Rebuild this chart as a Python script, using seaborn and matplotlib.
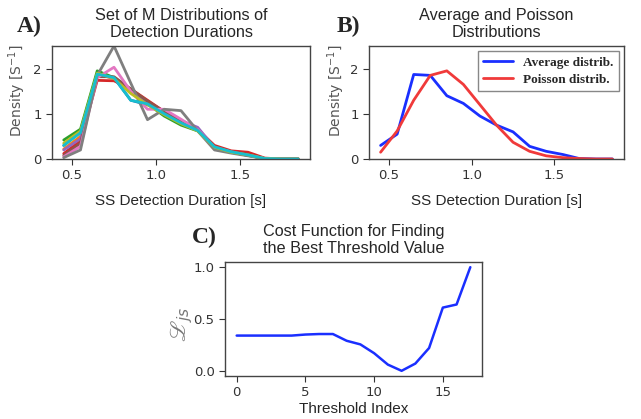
import numpy as np
import pandas as pd
import matplotlib
matplotlib.use("Agg")
import matplotlib.pyplot as plt
import seaborn as sns

# ---- data ----
durations = [0.45, 0.55, 0.65, 0.75, 0.85, 0.95, 1.05, 1.15, 1.25, 1.35, 1.45, 1.55, 1.65, 1.75, 1.85]

dist_1 = [0.30, 0.60, 1.90, 1.80, 1.30, 1.20, 1.05, 0.80, 0.65, 0.25, 0.15, 0.08, 0.01, 0.0, 0.0]
dist_2 = [0.22, 0.50, 1.88, 1.78, 1.50, 1.25, 1.00, 0.82, 0.63, 0.26, 0.16, 0.09, 0.01, 0.0, 0.0]
dist_3 = [0.42, 0.66, 1.95, 1.80, 1.50, 1.22, 0.95, 0.75, 0.62, 0.25, 0.15, 0.08, 0.01, 0.0, 0.0]
dist_4 = [0.12, 0.40, 1.74, 1.73, 1.55, 1.30, 1.05, 0.85, 0.65, 0.30, 0.18, 0.15, 0.02, 0.0, 0.0]
dist_5 = [0.20, 0.45, 1.85, 1.80, 1.50, 1.25, 1.05, 0.85, 0.70, 0.25, 0.16, 0.09, 0.01, 0.0, 0.0]
dist_6 = [0.08, 0.35, 1.82, 1.82, 1.55, 1.28, 1.05, 0.82, 0.63, 0.25, 0.16, 0.10, 0.01, 0.0, 0.0]
dist_7 = [0.05, 0.28, 1.80, 2.03, 1.50, 1.10, 1.10, 0.88, 0.65, 0.25, 0.15, 0.08, 0.01, 0.0, 0.0]
dist_8 = [0.03, 0.20, 1.85, 2.50, 1.68, 0.87, 1.10, 1.07, 0.62, 0.20, 0.13, 0.07, 0.01, 0.0, 0.0]
dist_9 = [0.35, 0.62, 1.90, 1.78, 1.45, 1.20, 0.98, 0.78, 0.62, 0.26, 0.15, 0.09, 0.01, 0.0, 0.0]
dist_10 = [0.30, 0.58, 1.88, 1.80, 1.30, 1.22, 1.00, 0.80, 0.63, 0.27, 0.16, 0.09, 0.01, 0.0, 0.0]
m_distributions = [dist_1, dist_2, dist_3, dist_4, dist_5, dist_6, dist_7, dist_8, dist_9, dist_10]

average_distrib = [0.30, 0.55, 1.87, 1.85, 1.40, 1.23, 0.95, 0.75, 0.60, 0.28, 0.17, 0.10, 0.01, 0.0, 0.0]
poisson_distrib = [0.15, 0.62, 1.30, 1.85, 1.95, 1.65, 1.20, 0.75, 0.37, 0.17, 0.07, 0.03, 0.01, 0.0, 0.0]

threshold_index = list(range(18))
cost_values = [0.34, 0.34, 0.34, 0.34, 0.34, 0.35, 0.355, 0.355, 0.29, 0.255, 0.17, 0.06, 0.0,
               0.07, 0.22, 0.61, 0.64, 1.0]

# ---- style ----
sns.set_style("ticks")
plt.rcParams['font.family'] = ['DejaVu Sans']
tick_col = '#333333'
sans = 'Liberation Sans'

fig = plt.figure(figsize=(6.41, 4.19), dpi=100)
W, H = 641, 419

def add_ax(x0, y0, x1, y1):
    return fig.add_axes([x0 / W, 1 - y1 / H, (x1 - x0) / W, (y1 - y0) / H])

axA = add_ax(52, 46, 310, 159)
axB = add_ax(369, 46, 624, 159)
axC = add_ax(225, 262, 482, 376)

title_kw = dict(fontsize=11.7, family=sans, pad=6.5, linespacing=1.15)

# ---- Panel A ----
dfA = pd.DataFrame({
    'duration': durations * len(m_distributions),
    'density': [v for d in m_distributions for v in d],
    'dist': [i for i in range(len(m_distributions)) for _ in durations],
})
sns.lineplot(data=dfA, x='duration', y='density', hue='dist', palette='tab10',
             linewidth=2, legend=False, ax=axA)
axA.set_ylim(0, 2.5)
axA.set_title('Set of M Distributions of\nDetection Durations', **title_kw)

# ---- Panel B ----
dfB = pd.DataFrame({
    'duration': durations * 2,
    'density': average_distrib + poisson_distrib,
    'kind': ['Average distrib.'] * len(durations) + ['Poisson distrib.'] * len(durations),
})
sns.lineplot(data=dfB, x='duration', y='density', hue='kind',
             palette={'Average distrib.': '#1a2fff', 'Poisson distrib.': '#f03a3a'},
             linewidth=2, ax=axB)
axB.set_ylim(0, 2.5)
axB.set_title('Average and Poisson\nDistributions', **title_kw)
leg = axB.legend(loc='upper right', fancybox=False, frameon=True, framealpha=1,
                 edgecolor='#888888', prop={'family': 'Liberation Serif', 'weight': 'bold', 'size': 9.5},
                 borderaxespad=0.4, handlelength=2.2, labelspacing=0.35)
for line in leg.get_lines():
    line.set_linewidth(2)

for ax, lx in ((axA, -0.093), (axB, -0.086)):
    ax.set_xticks([0.5, 1.0, 1.5])
    ax.set_yticks([0, 1, 2])
    ax.set_xlabel('SS Detection Duration [s]', fontsize=11, family=sans, labelpad=8)
    ax.set_ylabel(r'Density [S$^{-1}$]', fontsize=10, color='#555555')
    ax.yaxis.set_label_coords(lx, 0.60)

# ---- Panel C ----
dfC = pd.DataFrame({'idx': threshold_index, 'cost': cost_values})
sns.lineplot(data=dfC, x='idx', y='cost', color='#1a2fff', linewidth=1.8, ax=axC)
axC.set_xticks([0, 5, 10, 15])
axC.set_yticks([0.0, 0.5, 1.0])
axC.set_xlabel('Threshold Index', fontsize=11, family=sans, labelpad=2)
axC.set_ylabel(r'$\mathscr{L}_{js}$', fontsize=16, color='#777777')
axC.yaxis.set_label_coords(-0.117, 0.45)
axC.set_title('Cost Function for Finding\nthe Best Threshold Value', **title_kw)

for ax in (axA, axB, axC):
    ax.tick_params(labelsize=9.5, colors='#333333', labelcolor=tick_col, length=4)
    for s in ax.spines.values():
        s.set_color('#444444')
        s.set_linewidth(1.0)

# panel labels
for txt, x, y in [('A)', 17, 32), ('B)', 337, 32), ('C)', 192, 243)]:
    fig.text(x / W, 1 - y / H, txt, fontsize=17, fontweight='bold',
             family='Liberation Serif', ha='left', va='baseline')

fig.savefig('out.png', dpi=100)
